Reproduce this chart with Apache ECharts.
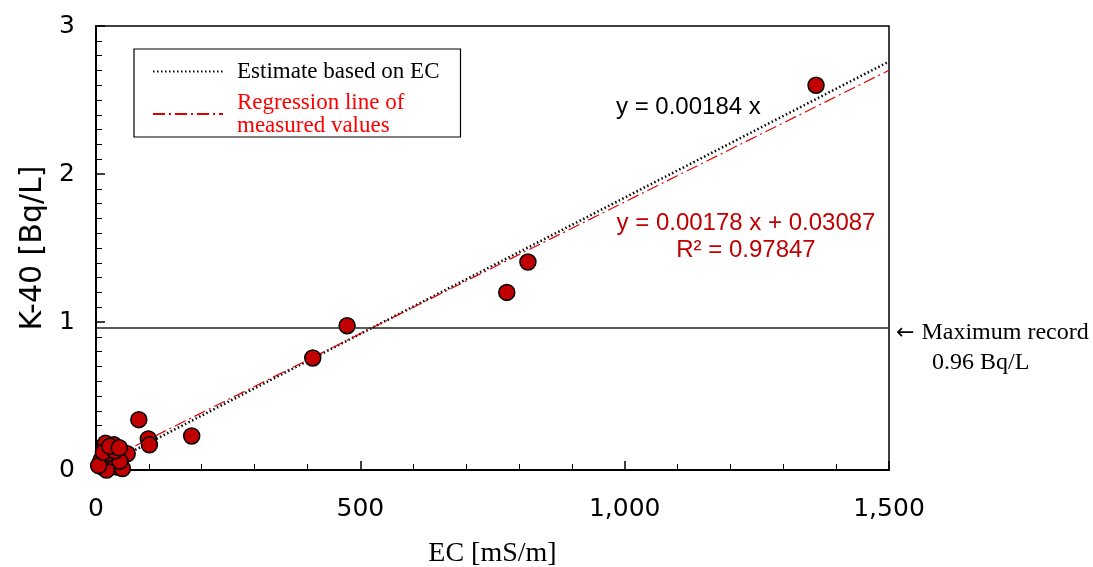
<!DOCTYPE html>
<html>
<head>
<meta charset="utf-8">
<script src="https://cdn.jsdelivr.net/npm/echarts@6/dist/echarts.min.js"></script>
<style>html,body{margin:0;padding:0;background:#fff;}#main{width:1093px;height:567px;}</style>
</head>
<body>
<div id="main"></div>
<script>
// Measured points: EC [mS/m] and K-40 [Bq/L]
const ecValues  = [18, 34, 28, 50, 59, 15, 25, 8, 40, 50, 12, 20, 30, 45, 10, 22, 5, 14, 36, 26, 44, 81, 99, 101, 181, 410, 475, 777, 817, 1362];
const k40Values = [0.18, 0.17, 0.14, 0.12, 0.11, 0.09, 0.05, 0.05, 0.02, 0.01, 0.02, 0.00, 0.09, 0.06, 0.07, 0.11, 0.03, 0.12, 0.13, 0.16, 0.15, 0.34, 0.21, 0.17, 0.23, 0.757, 0.975, 1.20, 1.405, 2.60];
// Line end points
const estimateLine   = [[0, 0], [1500, 2.76]];
const regressionLine = [[0, 0.031], [1500, 2.701]];
const maxRecord = 0.96;
const xTicks = {min: 0, max: 1500, interval: 500};
const yTicks = {min: 0, max: 3, interval: 1};

const nameEst = 'Estimate based on EC';
const nameReg = 'Regression line of measured values';

const chart = echarts.init(document.getElementById('main'));
chart.setOption({
  animation: false,
  backgroundColor: '#fff',
  grid: {left: 96, right: 204, top: 26, bottom: 97, outerBoundsMode: 'none', containLabel: false,
    show: true, borderColor: '#000', borderWidth: 1.5, backgroundColor: 'transparent'},
  legend: {
    left: 134, top: 49, orient: 'vertical',
    borderColor: '#000', borderWidth: 1.2, borderRadius: 0,
    padding: [11, 21, 0, 18],
    itemWidth: 70, itemHeight: 14, itemGap: 8,
    itemStyle: {opacity: 0},
    textStyle: {fontFamily: 'Liberation Serif', fontSize: 23, lineHeight: 23, padding: [0, 0, 0, 9]},
    formatter: function (n) { return n === nameReg ? 'Regression line of\nmeasured values' : n; },
    data: [
      {name: nameEst, textStyle: {color: '#000'}},
      {name: nameReg, textStyle: {color: '#FF0000'}}
    ]
  },
  xAxis: {
    type: 'value', min: xTicks.min, max: xTicks.max, interval: xTicks.interval,
    name: 'EC [mS/m]', nameLocation: 'middle', nameGap: 70,
    nameTextStyle: {fontFamily: 'Liberation Serif', fontSize: 28, color: '#000'},
    axisLine: {show: true, lineStyle: {color: '#000', width: 2}},
    axisTick: {show: true, inside: true, length: 9, lineStyle: {color: '#000', width: 1.5}},
    minorTick: {show: true, splitNumber: 5, length: 6, lineStyle: {color: '#000', width: 1}},
    splitLine: {show: false},
    axisLabel: {fontFamily: 'DejaVu Sans', fontSize: 25, color: '#000', margin: 27,
      formatter: function (v) { return v.toLocaleString('en-US'); }}
  },
  yAxis: {
    type: 'value', min: yTicks.min, max: yTicks.max, interval: yTicks.interval,
    name: 'K-40 [Bq/L]', nameLocation: 'middle', nameGap: 44,
    nameTextStyle: {fontFamily: 'DejaVu Sans', fontSize: 30, color: '#000'},
    axisLine: {show: true, lineStyle: {color: '#000', width: 2}},
    axisTick: {show: true, inside: true, length: 9, lineStyle: {color: '#000', width: 1.5}},
    minorTick: {show: true, splitNumber: 10, length: 6, lineStyle: {color: '#000', width: 1}},
    splitLine: {show: false},
    axisLabel: {fontFamily: 'DejaVu Sans', fontSize: 25, color: '#000', margin: 21}
  },
  series: [
    {
      name: nameEst, type: 'line', data: estimateLine, symbol: 'none', silent: true, z: 2,
      itemStyle: {color: '#000'},
      lineStyle: {color: '#000', width: 2.5, type: [1.5, 2.5]},
      markLine: {
        silent: true, symbol: 'none',
        lineStyle: {color: '#222', width: 1.5, type: 'solid'},
        label: {
          show: true, position: 'end', distance: 7,
          padding: [40, 0, 0, 0],
          formatter: '{c|←}{a|Maximum record}\n{b|0.96 Bq/L}',
          rich: {
            c: {fontFamily: 'DejaVu Sans', fontSize: 22, lineHeight: 30, color: '#000', padding: [0, 7, 0, 0]},
            a: {fontFamily: 'Liberation Serif', fontSize: 24, lineHeight: 30, color: '#000'},
            b: {fontFamily: 'Liberation Serif', fontSize: 24, lineHeight: 30, color: '#000', padding: [0, 0, 0, 36]}
          }
        },
        data: [{yAxis: maxRecord}]
      }
    },
    {
      name: nameReg, type: 'line', data: regressionLine, symbol: 'none', silent: true, z: 2,
      itemStyle: {color: '#E00000'},
      lineStyle: {color: '#E00000', width: 1.2, type: [12, 4, 2, 4]}
    },
    {
      name: 'Measured', type: 'scatter', z: 5,
      data: ecValues.map(function (x, i) { return [x, k40Values[i]]; }),
      symbol: 'circle', symbolSize: 16,
      itemStyle: {color: '#C00000', borderColor: '#000', borderWidth: 1.5, opacity: 1}
    }
  ],
  graphic: [
    {type: 'text', left: 616, top: 95, style: {text: 'y = 0.00184 x', fontFamily: 'Liberation Sans', fontSize: 24, fill: '#000'}},
    {type: 'text', x: 746, y: 210, style: {text: 'y = 0.00178 x + 0.03087\nR² = 0.97847', fontFamily: 'Liberation Sans', fontSize: 24, lineHeight: 27, fill: '#C00000', align: 'center'}}
  ]
});
</script>
</body>
</html>
